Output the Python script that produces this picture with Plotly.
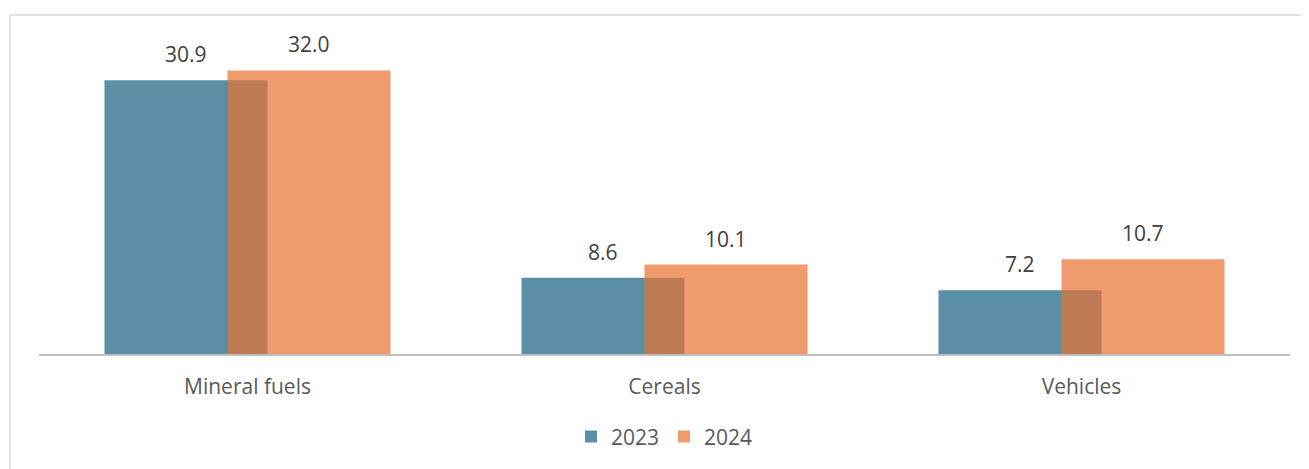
import plotly.graph_objects as go

categories = ["Mineral fuels", "Cereals", "Vehicles"]
years = ["2023", "2024"]
values_2023 = [30.9, 8.6, 7.2]
values_2024 = [32.0, 10.1, 10.7]

colors = ["rgb(91,143,166)", "rgba(232,112,49,0.7)"]
offsets = [-0.343, -0.048]
bar_width = 0.391
font_family = "Open Sans, Lato, sans-serif"

idx = list(range(len(categories)))
fig = go.Figure()
annotations = []
for name, vals, col, off in zip(years, [values_2023, values_2024], colors, offsets):
    fig.add_trace(go.Bar(
        x=idx, y=vals, name=name, width=bar_width, offset=off,
        marker=dict(color=col, line=dict(width=0)),
        hoverinfo="y",
    ))
    for i, v in zip(idx, vals):
        annotations.append(dict(
            x=i + off + bar_width / 2, y=v, xref="x", yref="y",
            text=f"{v:.1f}", showarrow=False, yanchor="bottom", yshift=10,
            font=dict(size=21, color="#404040", family=font_family),
        ))

shapes = [
    dict(type="line", xref="paper", yref="paper", x0=-0.0232, x1=-0.0232,
         y0=-0.40, y1=1.0627, line=dict(color="#d9d9d9", width=1.5)),
    dict(type="line", xref="paper", yref="paper", x0=-0.0232, x1=1.05,
         y0=1.0627, y1=1.0627, line=dict(color="#d9d9d9", width=1.5)),
]

fig.update_layout(
    width=1309, height=469,
    barmode="overlay",
    paper_bgcolor="white", plot_bgcolor="white",
    margin=dict(l=31, r=27, t=27, b=123),
    font=dict(family=font_family, size=21, color="#595959"),
    xaxis=dict(
        range=[-0.5, 2.5], tickvals=idx, ticktext=categories,
        showline=True, linecolor="#bfbfbf", linewidth=2,
        showgrid=False, zeroline=False,
        ticks="outside", ticklen=13, tickcolor="rgba(0,0,0,0)",
        tickfont=dict(size=21, color="#595959"),
    ),
    yaxis=dict(range=[0, 36], visible=False),
    legend=dict(
        orientation="h", x=0.5, xanchor="center", y=-0.26, yanchor="middle",
        font=dict(size=21, color="#595959"), traceorder="normal",
    ),
    annotations=annotations,
    shapes=shapes,
    showlegend=True,
)

fig.write_html("out.html")
